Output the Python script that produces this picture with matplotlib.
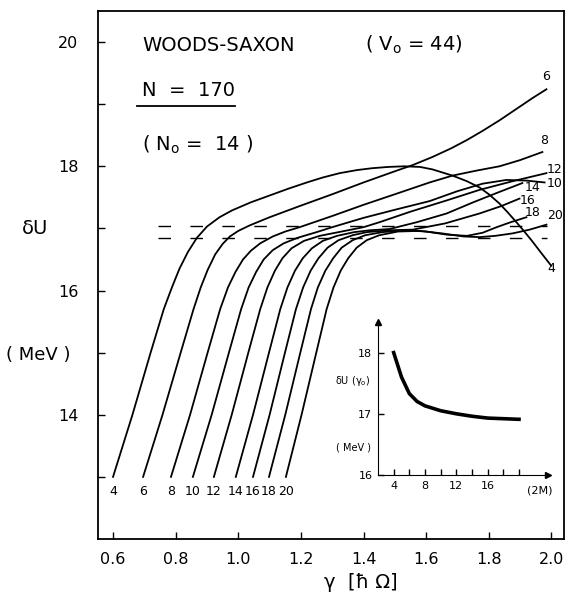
import numpy as np
import matplotlib.pyplot as plt

# curves labelled by 2M : gamma [hbar Omega] and deltaU [MeV]
g4 = [0.6, 0.662, 0.72, 0.762, 0.788, 0.812, 0.839, 0.868, 0.9, 0.94, 0.98, 1.04, 1.10, 1.16, 1.219, 1.27,
      1.324, 1.38, 1.429, 1.48, 1.53, 1.58, 1.62, 1.684, 1.73, 1.77, 1.80, 1.834, 1.86, 1.888, 1.91, 1.936, 1.965, 1.999]
u4 = [13.0, 14.0, 15.0, 15.7, 16.05, 16.35, 16.62, 16.85, 17.03, 17.18, 17.29, 17.42, 17.53, 17.64, 17.74, 17.82,
      17.89, 17.94, 17.97, 17.99, 18.0, 17.99, 17.95, 17.85, 17.76, 17.66, 17.55, 17.4, 17.26, 17.1, 16.97, 16.81, 16.62, 16.4]
g6 = [0.696, 0.758, 0.816, 0.857, 0.88, 0.902, 0.926, 0.95, 0.973, 1.0, 1.037, 1.10, 1.196, 1.30, 1.40, 1.50,
      1.557, 1.62, 1.68, 1.729, 1.78, 1.834, 1.89, 1.94, 1.984]
u6 = [13.0, 14.0, 15.0, 15.7, 16.05, 16.33, 16.58, 16.75, 16.87, 16.96, 17.05, 17.18, 17.36, 17.55, 17.74, 17.92,
      18.02, 18.15, 18.29, 18.42, 18.57, 18.74, 18.93, 19.1, 19.24]
g8 = [0.785, 0.846, 0.902, 0.942, 0.967, 0.991, 1.015, 1.04, 1.07, 1.11, 1.15, 1.196, 1.30, 1.40, 1.50, 1.611,
      1.684, 1.76, 1.834, 1.90, 1.971]
u8 = [13.0, 14.0, 15.0, 15.7, 16.05, 16.3, 16.5, 16.64, 16.76, 16.87, 16.95, 17.02, 17.2, 17.38, 17.55, 17.74,
      17.85, 17.93, 18.0, 18.1, 18.23]
g10 = [0.855, 0.915, 0.97, 1.009, 1.033, 1.057, 1.081, 1.11, 1.145, 1.19, 1.25, 1.30, 1.40, 1.50, 1.611, 1.70,
       1.78, 1.856, 1.92, 1.978]
u10 = [13.0, 14.0, 15.0, 15.7, 16.05, 16.3, 16.5, 16.65, 16.76, 16.85, 16.94, 17.02, 17.17, 17.3, 17.44, 17.6,
       17.72, 17.78, 17.77, 17.74]
g12 = [0.922, 0.979, 1.032, 1.07, 1.093, 1.117, 1.141, 1.17, 1.21, 1.26, 1.32, 1.40, 1.451, 1.55, 1.665, 1.77,
       1.876, 1.984]
u12 = [13.0, 14.0, 15.0, 15.7, 16.05, 16.32, 16.52, 16.68, 16.8, 16.88, 16.94, 17.02, 17.1, 17.27, 17.45, 17.62,
       17.76, 17.89]
g14 = [0.992, 1.047, 1.098, 1.134, 1.157, 1.181, 1.206, 1.235, 1.27, 1.315, 1.37, 1.42, 1.483, 1.57, 1.665, 1.75,
       1.83, 1.907]
u14 = [13.0, 14.0, 15.0, 15.7, 16.05, 16.32, 16.52, 16.68, 16.8, 16.88, 16.94, 16.97, 16.99, 17.1, 17.24, 17.42,
       17.58, 17.73]
g16 = [1.047, 1.10, 1.149, 1.184, 1.207, 1.231, 1.256, 1.285, 1.32, 1.365, 1.41, 1.48, 1.557, 1.66, 1.77, 1.84, 1.898]
u16 = [13.0, 14.0, 15.0, 15.7, 16.05, 16.32, 16.52, 16.69, 16.81, 16.89, 16.94, 16.97, 16.98, 17.08, 17.24, 17.36, 17.48]
g18 = [1.098, 1.15, 1.198, 1.232, 1.254, 1.278, 1.303, 1.33, 1.365, 1.405, 1.46, 1.53, 1.60, 1.665, 1.73, 1.78,
       1.825, 1.87, 1.92]
u18 = [13.0, 14.0, 15.0, 15.7, 16.05, 16.32, 16.52, 16.69, 16.81, 16.89, 16.94, 16.97, 16.95, 16.9, 16.88, 16.93,
       17.02, 17.1, 17.18]
g20 = [1.152, 1.202, 1.249, 1.282, 1.304, 1.327, 1.351, 1.378, 1.41, 1.45, 1.51, 1.58, 1.65, 1.72, 1.77, 1.82,
       1.876, 1.93, 1.984]
u20 = [13.0, 14.0, 15.0, 15.7, 16.05, 16.32, 16.52, 16.69, 16.81, 16.89, 16.95, 16.96, 16.92, 16.87, 16.86, 16.88,
       16.92, 16.98, 17.06]

labels = ["4", "6", "8", "10", "12", "14", "16", "18", "20"]
gammas = [g4, g6, g8, g10, g12, g14, g16, g18, g20]
dus = [u4, u6, u8, u10, u12, u14, u16, u18, u20]

# end-of-curve label spots (right side)
end_lab_x = [1.999, 1.984, 1.977, 2.01, 2.01, 1.94, 1.925, 1.94, 2.01]
end_lab_y = [16.35, 19.45, 18.42, 17.72, 17.95, 17.66, 17.45, 17.25, 17.21]

dash_levels = [17.04, 16.85]

# inset: deltaU(gamma_0) vs 2M
m_in = [4, 5, 6, 7, 8, 10, 12, 14, 16, 18, 20]
du_in = [18.0, 17.6, 17.33, 17.2, 17.13, 17.05, 17.0, 16.96, 16.93, 16.92, 16.91]

plt.rcParams['font.family'] = 'DejaVu Sans'
plt.rcParams['mathtext.default'] = 'regular'

fig = plt.figure(figsize=(5.66, 5.98), dpi=100)
ax = fig.add_axes([98/566, 1-539/598, 466/566, 528/598])

for g, u in zip(gammas, dus):
    ax.plot(g, u, color="black", lw=1.3)

for lev in dash_levels:
    ax.hlines(lev, 0.743, 1.987, colors="black", lw=1.0, linestyles=(0, (9, 14)))

for lab, g in zip(labels, gammas):
    ax.text(g[0], 12.77, lab, ha="center", va="center", fontsize=9)
for lab, x, y in zip(labels, end_lab_x, end_lab_y):
    ax.text(x, y, lab, ha="center", va="center", fontsize=9)

ax.set_xlim(0.552, 2.04)
ax.set_ylim(12, 20.5)
ax.set_xticks([0.6, 0.8, 1.0, 1.2, 1.4, 1.6, 1.8, 2.0])
ax.set_xticklabels(["0.6", "0.8", "1.0", "1.2", "1.4", "1.6", "1.8", "2.0"])
ax.set_yticks([14, 16, 18, 20])
ax.set_yticks([13, 15, 17, 19], minor=True)
ax.tick_params(direction="in", length=5, width=1, labelsize=11.5, pad=9)
ax.tick_params(axis="y", which="minor", direction="in", length=5, width=1)
ax.tick_params(axis="y", pad=14)
for s in ax.spines.values():
    s.set_linewidth(1.3)

ax.text(0.692, 19.95, "WOODS-SAXON", fontsize=14, va="center")
ax.text(1.404, 19.95, r"( V$_\mathregular{o}$ = 44)", fontsize=14, va="center")
ax.text(0.692, 19.22, "N  =  170", fontsize=14, va="center")
ax.plot([0.677, 0.989], [18.97, 18.97], color="black", lw=1.3)
ax.text(0.692, 18.35, r"( N$_\mathregular{o}$ =  14 )", fontsize=14, va="center")

fig.text(35/566, 1-228/598, "δU", fontsize=14, ha="center", va="center")
fig.text(38/566, 1-355/598, "( MeV )", fontsize=13, ha="center", va="center")
fig.text(361/566, 1-583/598, "γ  [ħ Ω]", fontsize=14, ha="center", va="center")

# inset
axi = fig.add_axes([378/566, 1-475/598, 170/566, 153/598])
axi.plot(m_in, du_in, color="black", lw=2.6)
axi.set_xlim(2, 23.7)
axi.set_ylim(16, 18.5)
axi.spines["top"].set_visible(False)
axi.spines["right"].set_visible(False)
axi.patch.set_alpha(0)
axi.plot(1, 0, ">k", ms=4, transform=axi.transAxes, clip_on=False)
axi.plot(0, 1, "^k", ms=4, transform=axi.transAxes, clip_on=False)
axi.set_xticks([4, 8, 12, 16])
axi.set_xticks([6, 10, 14, 18, 20], minor=True)
axi.set_yticks([16, 17, 18])
axi.tick_params(which="both", direction="in", length=4, width=1, labelsize=8, pad=4)
axi.text(22.6, 15.75, "(2M)", fontsize=8, ha="center", va="center")
axi.text(-1.3, 17.53, r"δU (γ$_\mathregular{o}$)", fontsize=7, ha="center", va="center")
axi.text(-1.1, 16.45, "( MeV )", fontsize=7, ha="center", va="center")

plt.savefig("out.png", dpi=100)
